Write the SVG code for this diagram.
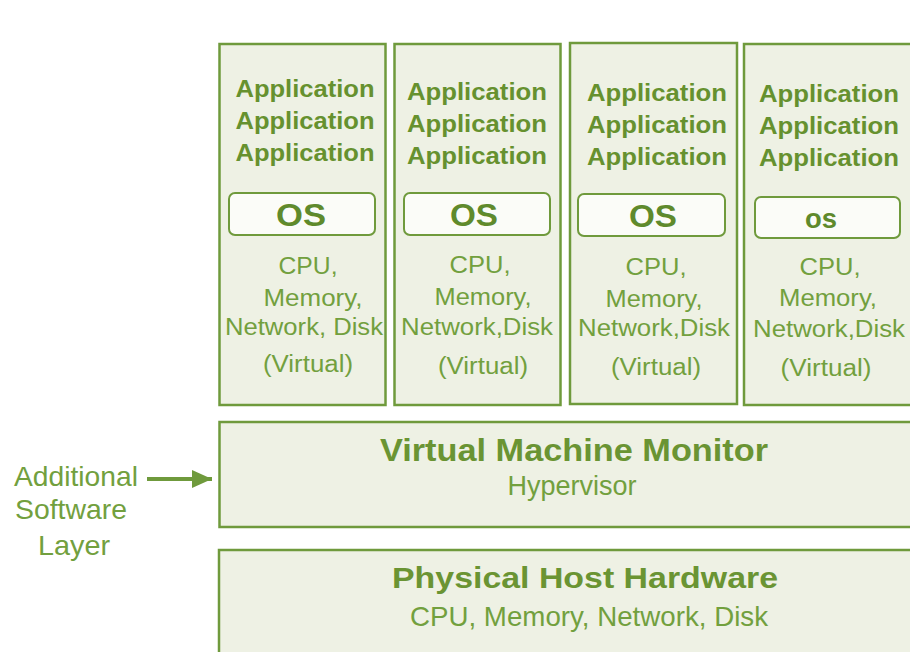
<svg xmlns="http://www.w3.org/2000/svg" width="910" height="652" viewBox="0 0 910 652">
<style>
.box{fill:#eef1e4;stroke:#6f9a3c;stroke-width:2.5}
.os{fill:#fbfcf8;stroke:#6f9a3c;stroke-width:2}
text{font-family:"Liberation Sans",Arial,sans-serif;text-anchor:middle}
.app{font-size:23px;font-weight:bold;fill:#66912f}
.osl{font-size:31px;font-weight:bold;fill:#5f8a2c}
.osm{font-size:27px;font-weight:bold;fill:#5f8a2c}
.res{font-size:23px;fill:#72a03e}
.t1{font-weight:bold;fill:#6a9433}
.t2{fill:#72a03e}
.side{font-size:28px;fill:#72a03e}
</style>
<defs>
<marker id="ah" viewBox="0 0 20 18" refX="20" refY="9" markerWidth="20" markerHeight="18" orient="auto" markerUnits="userSpaceOnUse">
<path d="M0,0 L20,9 L0,18 z" fill="#6f9a3c"/>
</marker>
</defs>
<rect width="910" height="652" fill="#ffffff"/>
<g id="vm1">
<rect class="box" x="219.5" y="44" width="166" height="361"/>
<text class="app" x="305" y="97" textLength="139" lengthAdjust="spacingAndGlyphs">Application</text>
<text class="app" x="305" y="129" textLength="139" lengthAdjust="spacingAndGlyphs">Application</text>
<text class="app" x="305" y="161" textLength="139" lengthAdjust="spacingAndGlyphs">Application</text>
<rect class="os" x="229" y="193" width="146" height="42" rx="6"/>
<text class="osl" x="301" y="226" textLength="50" lengthAdjust="spacingAndGlyphs">OS</text>
<text class="res" x="308" y="274" textLength="59" lengthAdjust="spacingAndGlyphs">CPU,</text>
<text class="res" x="313" y="306" textLength="99" lengthAdjust="spacingAndGlyphs">Memory,</text>
<text class="res" x="304" y="335" textLength="158" lengthAdjust="spacingAndGlyphs">Network, Disk</text>
<text class="res" x="308" y="372" textLength="90" lengthAdjust="spacingAndGlyphs">(Virtual)</text>
</g>
<g id="vm2">
<rect class="box" x="394.5" y="44" width="166" height="361"/>
<text class="app" x="477" y="100" textLength="140" lengthAdjust="spacingAndGlyphs">Application</text>
<text class="app" x="477" y="132" textLength="140" lengthAdjust="spacingAndGlyphs">Application</text>
<text class="app" x="477" y="164" textLength="140" lengthAdjust="spacingAndGlyphs">Application</text>
<rect class="os" x="404" y="193" width="146" height="42" rx="6"/>
<text class="osl" x="474" y="226" textLength="48" lengthAdjust="spacingAndGlyphs">OS</text>
<text class="res" x="480" y="273" textLength="61" lengthAdjust="spacingAndGlyphs">CPU,</text>
<text class="res" x="483" y="305" textLength="97" lengthAdjust="spacingAndGlyphs">Memory,</text>
<text class="res" x="477" y="335" textLength="152" lengthAdjust="spacingAndGlyphs">Network,Disk</text>
<text class="res" x="483" y="374" textLength="90" lengthAdjust="spacingAndGlyphs">(Virtual)</text>
</g>
<g id="vm3">
<rect class="box" x="570" y="43" width="167" height="361"/>
<text class="app" x="657" y="101" textLength="140" lengthAdjust="spacingAndGlyphs">Application</text>
<text class="app" x="657" y="133" textLength="140" lengthAdjust="spacingAndGlyphs">Application</text>
<text class="app" x="657" y="165" textLength="140" lengthAdjust="spacingAndGlyphs">Application</text>
<rect class="os" x="578" y="194" width="147" height="42" rx="6"/>
<text class="osl" x="653" y="227" textLength="48" lengthAdjust="spacingAndGlyphs">OS</text>
<text class="res" x="656" y="275" textLength="61" lengthAdjust="spacingAndGlyphs">CPU,</text>
<text class="res" x="654" y="307" textLength="97" lengthAdjust="spacingAndGlyphs">Memory,</text>
<text class="res" x="654" y="336" textLength="152" lengthAdjust="spacingAndGlyphs">Network,Disk</text>
<text class="res" x="656" y="375" textLength="90" lengthAdjust="spacingAndGlyphs">(Virtual)</text>
</g>
<g id="vm4">
<rect class="box" x="744" y="44" width="170" height="361"/>
<text class="app" x="829" y="102" textLength="140" lengthAdjust="spacingAndGlyphs">Application</text>
<text class="app" x="829" y="134" textLength="140" lengthAdjust="spacingAndGlyphs">Application</text>
<text class="app" x="829" y="166" textLength="140" lengthAdjust="spacingAndGlyphs">Application</text>
<rect class="os" x="755" y="197" width="145" height="41" rx="6"/>
<text class="osm" x="821" y="228" textLength="32" lengthAdjust="spacingAndGlyphs">os</text>
<text class="res" x="830" y="275" textLength="61" lengthAdjust="spacingAndGlyphs">CPU,</text>
<text class="res" x="828" y="306" textLength="98" lengthAdjust="spacingAndGlyphs">Memory,</text>
<text class="res" x="829" y="337" textLength="152" lengthAdjust="spacingAndGlyphs">Network,Disk</text>
<text class="res" x="826" y="376" textLength="91" lengthAdjust="spacingAndGlyphs">(Virtual)</text>
</g>
<g id="vmm">
<rect class="box" x="219.5" y="422" width="700" height="105"/>
<text class="t1" x="574" y="461" font-size="31" textLength="388" lengthAdjust="spacingAndGlyphs">Virtual Machine Monitor</text>
<text class="t2" x="572" y="495" font-size="27" textLength="129" lengthAdjust="spacingAndGlyphs">Hypervisor</text>
</g>
<g id="hardware">
<rect class="box" x="219" y="550" width="700" height="120"/>
<text class="t1" x="585" y="588" font-size="30" textLength="386" lengthAdjust="spacingAndGlyphs">Physical Host Hardware</text>
<text class="t2" x="589" y="626" font-size="28" textLength="358" lengthAdjust="spacingAndGlyphs">CPU, Memory, Network, Disk</text>
</g>
<g id="label">
<text class="side" x="76" y="486" textLength="124" lengthAdjust="spacingAndGlyphs">Additional</text>
<text class="side" x="71" y="519" textLength="112" lengthAdjust="spacingAndGlyphs">Software</text>
<text class="side" x="74" y="555" textLength="72" lengthAdjust="spacingAndGlyphs">Layer</text>
</g>
<g id="connectors">
<line x1="147" y1="479" x2="212" y2="479" stroke="#6f9a3c" stroke-width="4" marker-end="url(#ah)"/>
</g>
</svg>
